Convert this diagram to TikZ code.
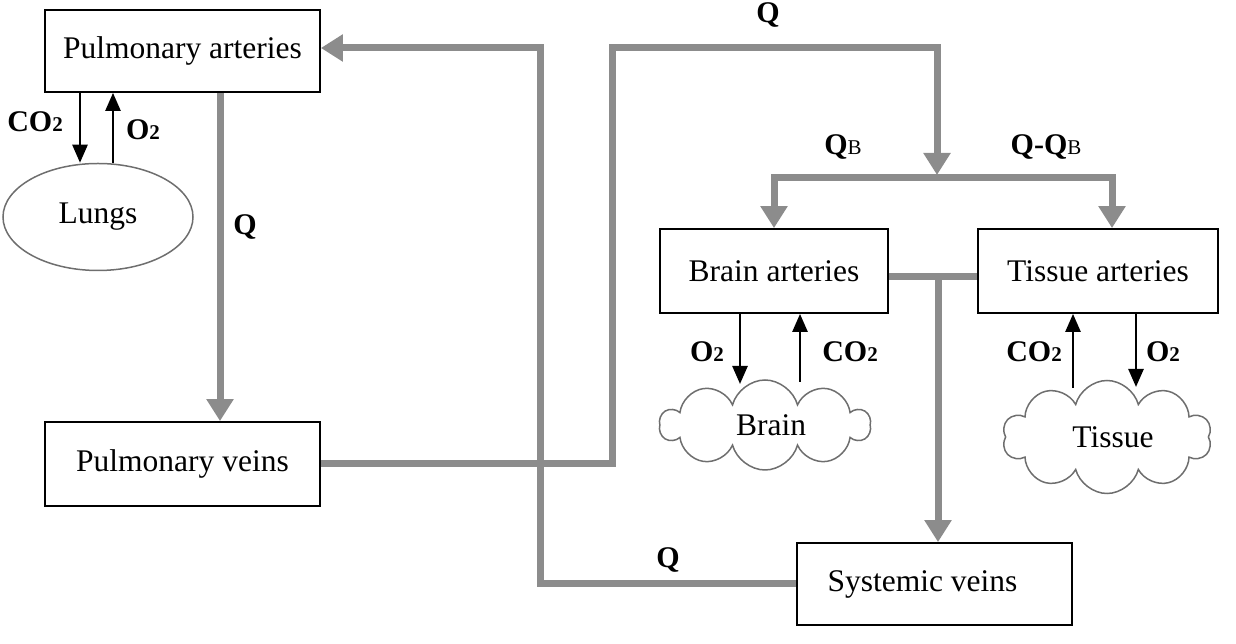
\documentclass[tikz,border=0pt]{standalone}
\usepackage{fontspec}
\setmainfont{Liberation Serif}
\usetikzlibrary{arrows.meta,shapes.geometric,shapes.symbols}
\definecolor{flow}{HTML}{8C8C8C}
\definecolor{outl}{HTML}{6E6E6E}
\newcommand{\smallsub}[1]{{\fontsize{21}{22}\selectfont #1}}
\begin{document}
\begin{tikzpicture}[x=1pt,y=1pt,
  box/.style={draw=black, line width=1.8pt, inner sep=0, font=\fontsize{31.5}{34}\selectfont},
  blob/.style={draw=outl, line width=1.5pt, inner sep=0, font=\fontsize{31.5}{34}\selectfont},
  flowline/.style={draw=flow, line width=7pt},
  flowarrow/.style={flowline, -{Triangle[width=26pt,length=22pt]}},
  flowboth/.style={flowline, {Triangle[width=26pt,length=22pt]}-{Triangle[width=26pt,length=22pt]}},
  gasarrow/.style={draw=black, line width=2.5pt, -{Triangle[width=15pt,length=18pt]}},
  lbl/.style={inner sep=0, font=\fontsize{30}{32}\selectfont\bfseries}]
\useasboundingbox (0,0) rectangle (1236,644);

% nodes
\node[box, minimum width=275, minimum height=82] (pa) at (182.5,593) {Pulmonary arteries};
\node[ellipse, blob, minimum width=190, minimum height=107] (lungs) at (98,427) {Lungs};
\node[box, minimum width=275, minimum height=84] (pv) at (182.5,180) {Pulmonary veins};
\node[box, minimum width=228, minimum height=84] (ba) at (774,373) {Brain arteries};
\node[box, minimum width=240, minimum height=84] (ta) at (1098,373) {Tissue arteries};
\node[box, minimum width=275, minimum height=82] (sv) at (934.5,60) {\hspace*{-24pt}Systemic veins};
\node[cloud, blob, cloud puffs=10, cloud puff arc=150, aspect=2.3, minimum width=210, minimum height=90] (brain) at (765,219) {\hspace*{12pt}Brain};
\node[cloud, blob, cloud puffs=10, cloud puff arc=150, aspect=1.9, minimum width=209, minimum height=113] (tissue) at (1107,207) {\hspace*{12pt}Tissue};

% helper coordinates
\coordinate (x80) at (80,0);
\coordinate (x113) at (113,0);
\coordinate (x220) at (220,0);
\coordinate (topl) at (612,596);
\coordinate (topr) at (937,596);
\coordinate (split) at (937,469);
\coordinate (bsplit) at (1112,466);
\coordinate (mid) at (938,367);
\coordinate (ret) at (540,596);
\coordinate (bo2) at (740,260);
\coordinate (bco2) at (800,262);
\coordinate (tco2) at (1073,256);
\coordinate (to2) at (1136,257);

% grey flow connectors
\draw[flowarrow] (pa.south -| x220) -- (pv.north -| x220);
\draw[flowarrow] (pv.east) -| (topl) -- (topr) -- (split);
\draw[flowboth] (ba.north) |- (bsplit) -- (ta.north -| bsplit);
\draw[flowline] (ba.east |- mid) -- (ta.west |- mid);
\draw[flowarrow] (mid) -- (sv.north -| mid);
\draw[flowarrow] (sv.west) -| (ret) -- (pa.east |- ret);

% gas exchange arrows
\draw[gasarrow] (pa.south -| x80) -- (lungs.north -| x80);
\draw[gasarrow] (lungs.north -| x113) -- (pa.south -| x113);
\draw[gasarrow] (ba.south -| bo2) -- (bo2);
\draw[gasarrow] (bco2) -- (ba.south -| bco2);
\draw[gasarrow] (tco2) -- (ta.south -| tco2);
\draw[gasarrow] (ta.south -| to2) -- (to2);

% labels
\node[lbl] (lco2a) at (35,522) {CO\smallsub{2}};
\node[lbl] (lo2a) at (143,514) {O\smallsub{2}};
\node[lbl] (lq1) at (245,417) {Q};
\node[lbl] (lq2) at (768,629) {Q};
\node[lbl] (lqb) at (843,497) {Q{\mdseries\smallsub{B}}};
\node[lbl] (lqqb) at (1046,497) {Q-Q{\mdseries\smallsub{B}}};
\node[lbl] (lo2b) at (707,292) {O\smallsub{2}};
\node[lbl] (lco2b) at (850,292) {CO\smallsub{2}};
\node[lbl] (lco2t) at (1034,292) {CO\smallsub{2}};
\node[lbl] (lo2t) at (1163,292) {O\smallsub{2}};
\node[lbl] (lq3) at (668,84) {Q};
\end{tikzpicture}
\end{document}
